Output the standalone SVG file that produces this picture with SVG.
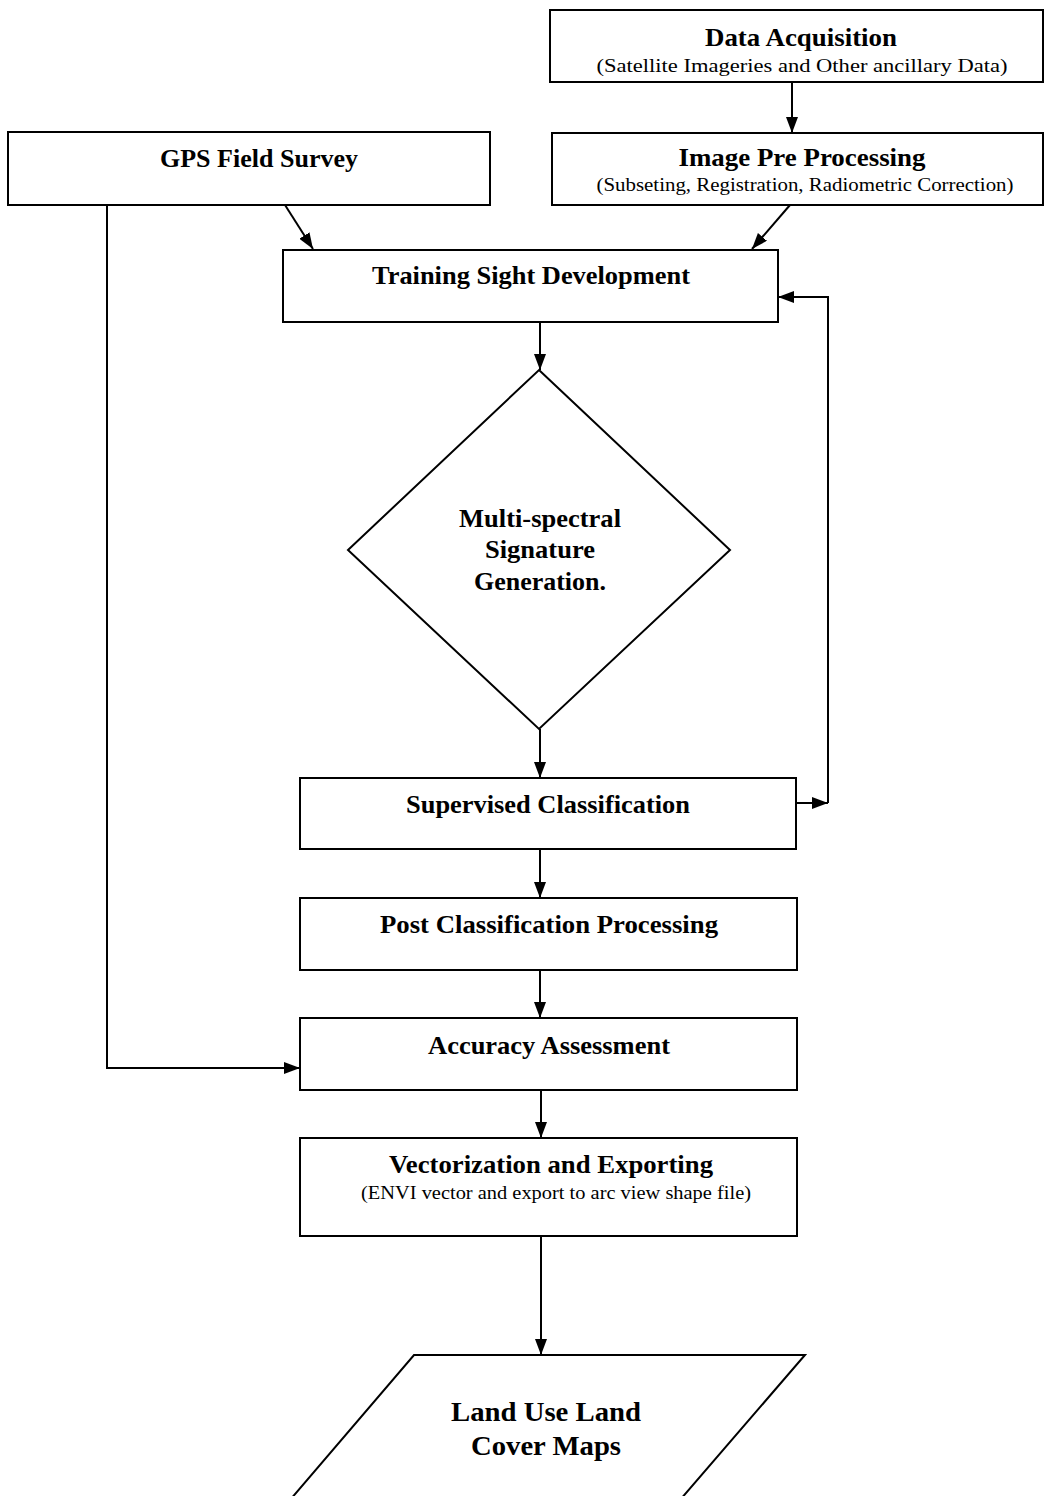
<svg xmlns="http://www.w3.org/2000/svg" width="1044" height="1496" viewBox="0 0 1044 1496">
<style>
.box{fill:#fff;stroke:#000;stroke-width:2}
.t{font-family:"Liberation Serif","Times New Roman",serif;font-weight:bold;font-size:26px;text-anchor:middle;fill:#000}
.s{font-family:"Liberation Serif","Times New Roman",serif;font-size:18px;text-anchor:middle;fill:#000}
.c{fill:none;stroke:#000;stroke-width:2}
</style>
<defs>
<marker id="a" viewBox="0 0 16 12" refX="16" refY="6" markerWidth="16" markerHeight="12" orient="auto" markerUnits="userSpaceOnUse">
<path d="M0,0 L16,6 L0,12 z" fill="#000"/>
</marker>
</defs>
<rect width="1044" height="1496" fill="#fff"/>
<g id="connectors">
<path class="c" d="M792,82 L792,133" marker-end="url(#a)"/>
<path class="c" d="M285,205 L313,249" marker-end="url(#a)"/>
<path class="c" d="M790,205 L752,249" marker-end="url(#a)"/>
<path class="c" d="M540,322 L540,370" marker-end="url(#a)"/>
<path class="c" d="M540,729 L540,778" marker-end="url(#a)"/>
<path class="c" d="M796,803 L828,803" marker-end="url(#a)"/>
<path class="c" d="M828,803 L828,297 L778,297" marker-end="url(#a)"/>
<path class="c" d="M540,849 L540,898" marker-end="url(#a)"/>
<path class="c" d="M540,970 L540,1018" marker-end="url(#a)"/>
<path class="c" d="M107,205 L107,1068 L300,1068" marker-end="url(#a)"/>
<path class="c" d="M541,1090 L541,1138" marker-end="url(#a)"/>
<path class="c" d="M541,1236 L541,1355" marker-end="url(#a)"/>
</g>
<g id="data-acquisition">
<rect class="box" x="550" y="10" width="493" height="72"/>
<text class="t" x="801" y="46" textLength="192" lengthAdjust="spacingAndGlyphs">Data Acquisition</text>
<text class="s" x="802" y="72" textLength="411" lengthAdjust="spacingAndGlyphs">(Satellite Imageries and Other ancillary Data)</text>
</g>
<g id="gps-field-survey">
<rect class="box" x="8" y="132" width="482" height="73"/>
<text class="t" x="259" y="167" textLength="198" lengthAdjust="spacingAndGlyphs">GPS Field Survey</text>
</g>
<g id="image-pre-processing">
<rect class="box" x="552" y="133" width="491" height="72"/>
<text class="t" x="802" y="166" textLength="247" lengthAdjust="spacingAndGlyphs">Image Pre Processing</text>
<text class="s" x="805" y="191" textLength="417" lengthAdjust="spacingAndGlyphs">(Subseting, Registration, Radiometric Correction)</text>
</g>
<g id="training-sight-development">
<rect class="box" x="283" y="250" width="495" height="72"/>
<text class="t" x="531" y="284" textLength="318" lengthAdjust="spacingAndGlyphs">Training Sight Development</text>
</g>
<g id="multi-spectral-signature">
<polygon class="box" points="539,370 730,550 539,729 348,550"/>
<text class="t" x="540" y="527" textLength="162" lengthAdjust="spacingAndGlyphs">Multi-spectral</text>
<text class="t" x="540" y="558" textLength="110" lengthAdjust="spacingAndGlyphs">Signature</text>
<text class="t" x="540" y="590" textLength="132" lengthAdjust="spacingAndGlyphs">Generation.</text>
</g>
<g id="supervised-classification">
<rect class="box" x="300" y="778" width="496" height="71"/>
<text class="t" x="548" y="813" textLength="284" lengthAdjust="spacingAndGlyphs">Supervised Classification</text>
</g>
<g id="post-classification-processing">
<rect class="box" x="300" y="898" width="497" height="72"/>
<text class="t" x="549" y="933" textLength="338" lengthAdjust="spacingAndGlyphs">Post Classification Processing</text>
</g>
<g id="accuracy-assessment">
<rect class="box" x="300" y="1018" width="497" height="72"/>
<text class="t" x="549" y="1054" textLength="242" lengthAdjust="spacingAndGlyphs">Accuracy Assessment</text>
</g>
<g id="vectorization-exporting">
<rect class="box" x="300" y="1138" width="497" height="98"/>
<text class="t" x="551" y="1173" textLength="324" lengthAdjust="spacingAndGlyphs">Vectorization and Exporting</text>
<text class="s" x="556" y="1199" textLength="390" lengthAdjust="spacingAndGlyphs">(ENVI vector and export to arc view shape file)</text>
</g>
<g id="lulc-maps">
<polygon class="box" points="414,1355 805,1355 680,1500 290,1500"/>
<text class="t" x="546" y="1421" style="font-size:28px" textLength="190" lengthAdjust="spacingAndGlyphs">Land Use Land</text>
<text class="t" x="546" y="1455" style="font-size:28px" textLength="150" lengthAdjust="spacingAndGlyphs">Cover Maps</text>
</g>
</svg>
